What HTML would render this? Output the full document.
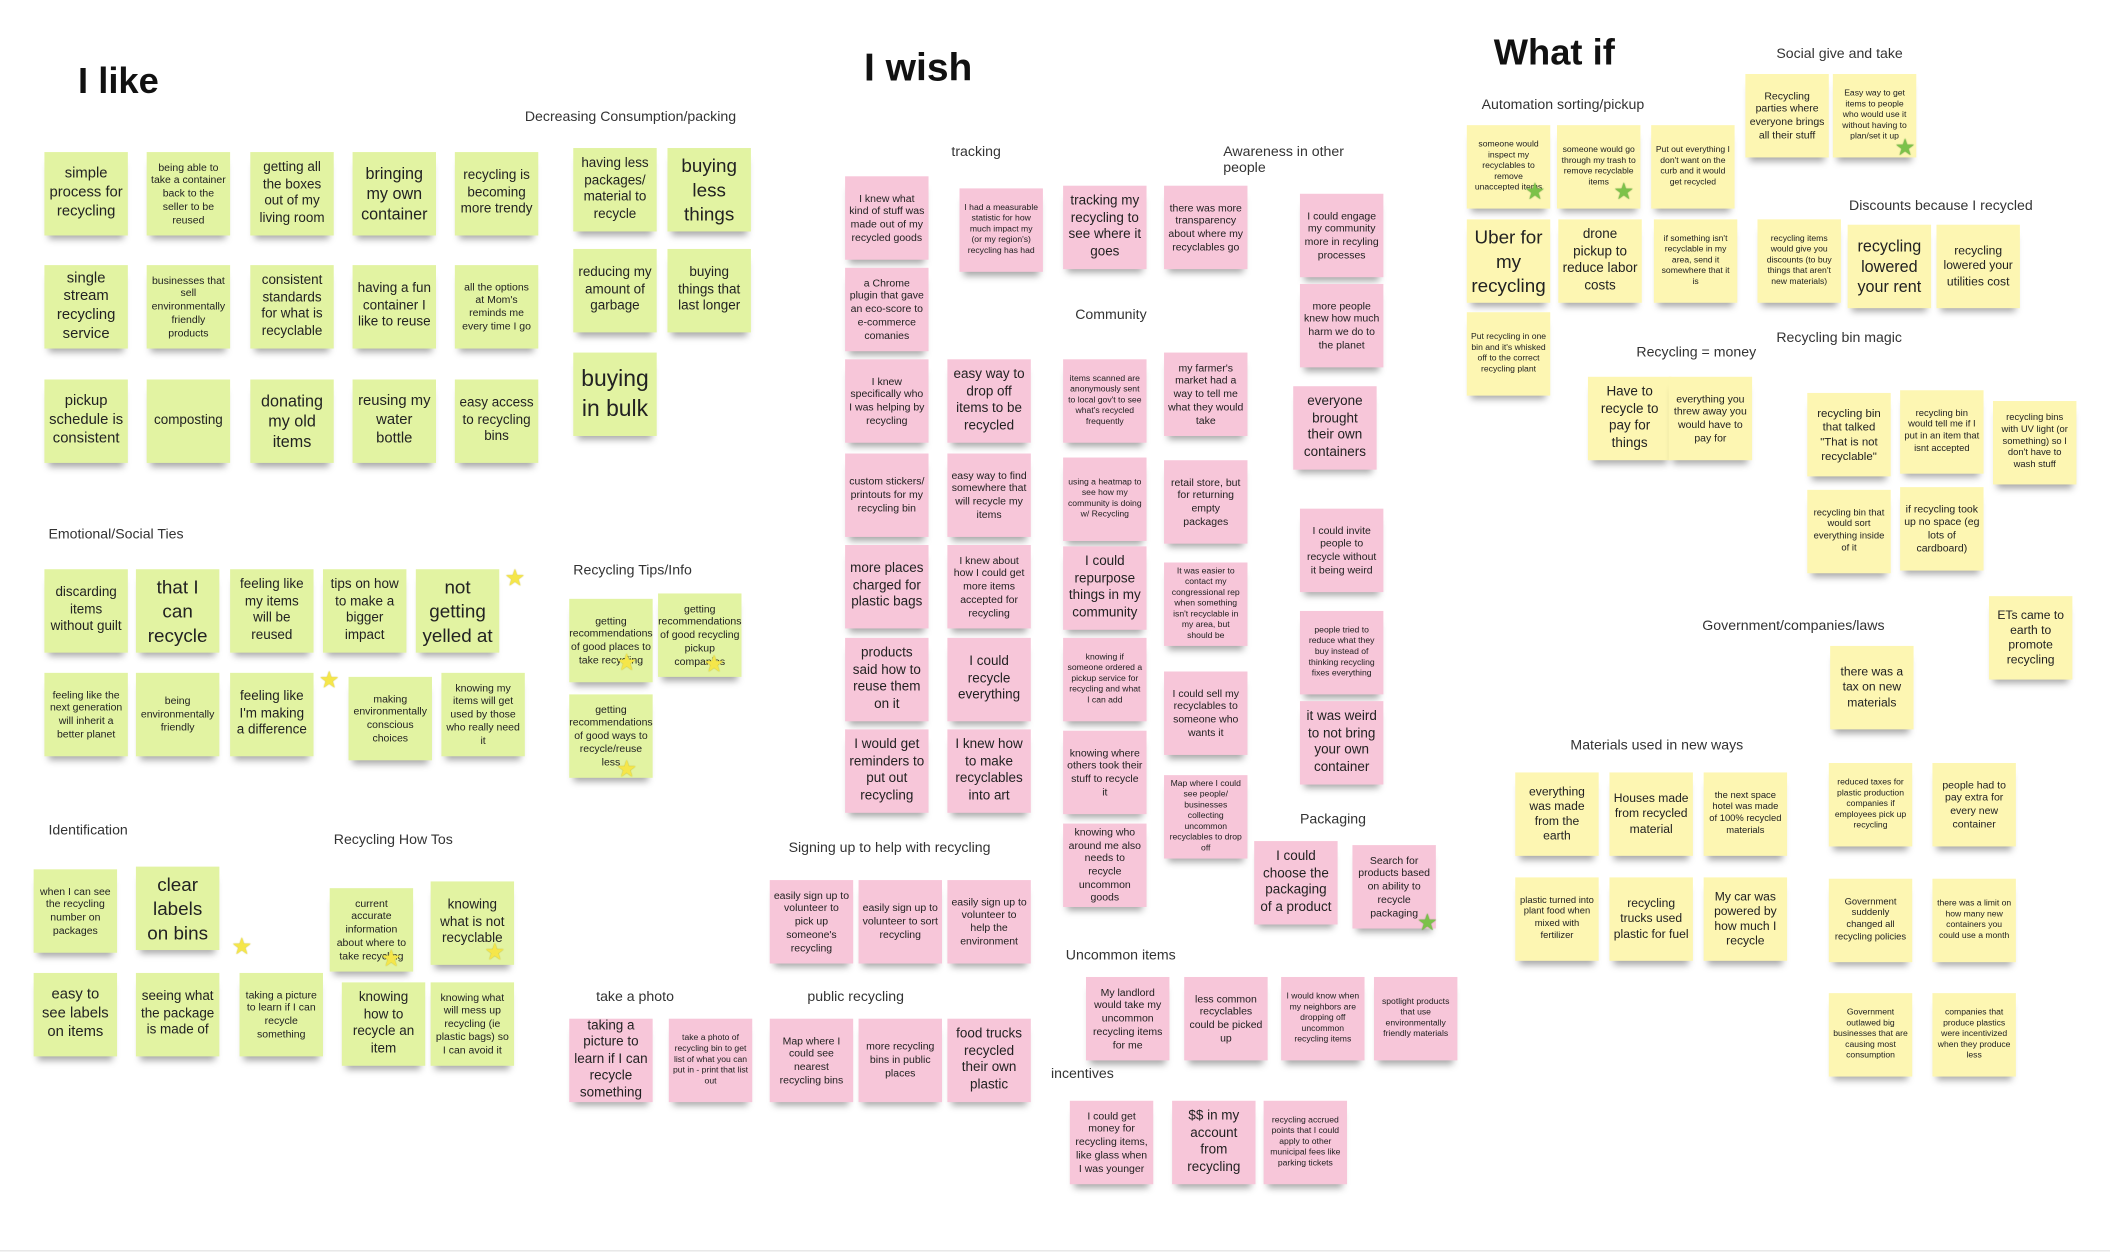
<!DOCTYPE html>
<html><head><meta charset="utf-8">
<style>
html,body{margin:0;padding:0;background:#fff;width:2110px;height:1256px;overflow:hidden}
#b{position:absolute;left:0;top:0;width:1568px;height:933px;transform:scale(1.3457);transform-origin:0 0;font-family:"Liberation Sans Narrow","Liberation Sans",sans-serif;color:#222}
.n{position:absolute;width:62px;height:62px;display:flex;align-items:center;justify-content:center;text-align:center;box-sizing:border-box;padding:2px 3px;box-shadow:0 6px 5px -3px rgba(0,0,0,.35);line-height:1.25;font-size:9.5px}
.g{background:#e2f3a2}.p{background:#f7c6d9}.y{background:#fdf6b2}
.xl{font-size:17px;line-height:1.3}.lg{font-size:14px;line-height:1.3}.md{font-size:11px}.sm{font-size:10px}.xs{font-size:7.8px}.xx{font-size:6.4px}
.l{position:absolute;font-family:"Liberation Sans",sans-serif;font-size:10.5px;color:#333;white-space:nowrap}
.t{position:absolute;font-family:"Liberation Sans",sans-serif;font-weight:bold;font-size:27px;color:#111}
.st{position:absolute;font-size:17px;line-height:1;color:#f5e64a;text-shadow:0 0 1px #b9a900}
.sg{color:#7cc24a;text-shadow:0 0 1px #4a8a2a}
.bl{position:absolute;left:0;top:929px;width:1568px;height:1px;background:#e4e4e4}
</style></head><body><div id="b">
<div class="t" style="left:58px;top:45px">I like</div>
<div class="t" style="left:642px;top:35px;font-size:29px">I wish</div>
<div class="t" style="left:1110px;top:24px">What if</div>

<div class="l" style="left:390px;top:81px">Decreasing Consumption/packing</div>
<div class="n g md" style="left:33px;top:113px">simple process for recycling</div>
<div class="n g xs" style="left:109px;top:113px">being able to take a container back to the seller to be reused</div>
<div class="n g sm" style="left:186px;top:113px">getting all the boxes out of my living room</div>
<div class="n g md" style="left:262px;top:113px;font-size:12px">bringing my own container</div>
<div class="n g sm" style="left:338px;top:113px">recycling is becoming more trendy</div>
<div class="n g md" style="left:33px;top:197px">single stream recycling service</div>
<div class="n g xs" style="left:109px;top:197px">businesses that sell environmentally friendly products</div>
<div class="n g sm" style="left:186px;top:197px">consistent standards for what is recyclable</div>
<div class="n g sm" style="left:262px;top:197px">having a fun container I like to reuse</div>
<div class="n g xs" style="left:338px;top:197px">all the options at Mom's reminds me every time I go</div>
<div class="n g md" style="left:33px;top:282px">pickup schedule is consistent</div>
<div class="n g sm" style="left:109px;top:282px">composting</div>
<div class="n g md" style="left:186px;top:282px;font-size:12px">donating my old items</div>
<div class="n g md" style="left:262px;top:282px">reusing my water bottle</div>
<div class="n g sm" style="left:338px;top:282px">easy access to recycling bins</div>
<div class="n g sm" style="left:426px;top:110px">having less packages/ material to recycle</div>
<div class="n g lg" style="left:496px;top:110px">buying less things</div>
<div class="n g sm" style="left:426px;top:185px">reducing my amount of garbage</div>
<div class="n g sm" style="left:496px;top:185px">buying things that last longer</div>
<div class="n g xl" style="left:426px;top:262px">buying in bulk</div>

<div class="l" style="left:36px;top:391px">Emotional/Social Ties</div>
<div class="n g sm" style="left:33px;top:423px">discarding items without guilt</div>
<div class="n g lg" style="left:101px;top:423px">that I can recycle</div>
<div class="n g sm" style="left:171px;top:423px">feeling like my items will be reused</div>
<div class="n g sm" style="left:240px;top:423px">tips on how to make a bigger impact</div>
<div class="n g lg" style="left:309px;top:423px">not getting yelled at</div>
<div class="st" style="left:375px;top:421px">★</div>
<div class="n g xs" style="left:33px;top:500px">feeling like the next generation will inherit a better planet</div>
<div class="n g xs" style="left:101px;top:500px">being environmentally friendly</div>
<div class="n g sm" style="left:171px;top:500px">feeling like I'm making a difference</div>
<div class="st" style="left:237px;top:497px">★</div>
<div class="n g xs" style="left:259px;top:503px">making environmentally conscious choices</div>
<div class="n g xs" style="left:328px;top:500px">knowing my items will get used by those who really need it</div>

<div class="l" style="left:36px;top:611px">Identification</div>
<div class="l" style="left:248px;top:618px">Recycling How Tos</div>
<div class="n g xs" style="left:25px;top:646px">when I can see the recycling number on packages</div>
<div class="n g lg" style="left:101px;top:644px">clear labels on bins</div>
<div class="st" style="left:172px;top:695px">★</div>
<div class="n g md" style="left:25px;top:723px">easy to see labels on items</div>
<div class="n g sm" style="left:101px;top:723px">seeing what the package is made of</div>
<div class="n g xs" style="left:178px;top:723px">taking a picture to learn if I can recycle something</div>
<div class="n g xs" style="left:245px;top:660px">current accurate information about where to take recycling</div>
<div class="st" style="left:283px;top:704px">★</div>
<div class="n g sm" style="left:320px;top:655px">knowing what is not recyclable</div>
<div class="st" style="left:360px;top:699px">★</div>
<div class="n g sm" style="left:254px;top:730px">knowing how to recycle an item</div>
<div class="n g xs" style="left:320px;top:730px">knowing what will mess up recycling (ie plastic bags) so I can avoid it</div>

<div class="l" style="left:426px;top:418px">Recycling Tips/Info</div>
<div class="n g xs" style="left:423px;top:445px">getting recommendations of good places to take recycling</div>
<div class="st" style="left:458px;top:484px">★</div>
<div class="n g xs" style="left:489px;top:441px">getting recommendations of good recycling pickup companies</div>
<div class="st" style="left:523px;top:485px">★</div>
<div class="n g xs" style="left:423px;top:516px">getting recommendations of good ways to recycle/reuse less</div>
<div class="st" style="left:458px;top:563px">★</div>

<div class="l" style="left:443px;top:735px">take a photo</div>
<div class="n p sm" style="left:423px;top:757px">taking a picture to learn if I can recycle something</div>
<div class="n p xx" style="left:497px;top:757px">take a photo of recycling bin to get list of what you can put in - print that list out</div>

<div class="l" style="left:707px;top:107px">tracking</div>
<div class="l" style="left:909px;top:107px;white-space:normal;width:110px">Awareness in other people</div>
<div class="n p xs" style="left:628px;top:131px">I knew what kind of stuff was made out of my recycled goods</div>
<div class="n p xs" style="left:628px;top:199px">a Chrome plugin that gave an eco-score to e-commerce comanies</div>
<div class="n p xs" style="left:628px;top:267px">I knew specifically who I was helping by recycling</div>
<div class="n p xs" style="left:628px;top:337px">custom stickers/ printouts for my recycling bin</div>
<div class="n p sm" style="left:628px;top:405px">more places charged for plastic bags</div>
<div class="n p sm" style="left:628px;top:474px">products said how to reuse them on it</div>
<div class="n p sm" style="left:628px;top:542px">I would get reminders to put out recycling</div>
<div class="n p xx" style="left:713px;top:140px">I had a measurable statistic for how much impact my (or my region's) recycling has had</div>
<div class="n p sm" style="left:704px;top:267px">easy way to drop off items to be recycled</div>
<div class="n p xs" style="left:704px;top:337px">easy way to find somewhere that will recycle my items</div>
<div class="n p xs" style="left:704px;top:405px">I knew about how I could get more items accepted for recycling</div>
<div class="n p sm" style="left:704px;top:474px">I could recycle everything</div>
<div class="n p sm" style="left:704px;top:542px">I knew how to make recyclables into art</div>
<div class="n p sm" style="left:790px;top:138px">tracking my recycling to see where it goes</div>
<div class="l" style="left:799px;top:228px">Community</div>
<div class="n p xx" style="left:790px;top:267px">items scanned are anonymously sent to local gov't to see what's recycled frequently</div>
<div class="n p xx" style="left:790px;top:340px">using a heatmap to see how my community is doing w/ Recycling</div>
<div class="n p sm" style="left:790px;top:406px">I could repurpose things in my community</div>
<div class="n p xx" style="left:790px;top:474px">knowing if someone ordered a pickup service for recycling and what I can add</div>
<div class="n p xs" style="left:790px;top:543px">knowing where others took their stuff to recycle it</div>
<div class="n p xs" style="left:790px;top:612px">knowing who around me also needs to recycle uncommon goods</div>
<div class="n p xs" style="left:865px;top:138px">there was more transparency about where my recyclables go</div>
<div class="n p xs" style="left:865px;top:262px">my farmer's market had a way to tell me what they would take</div>
<div class="n p xs" style="left:865px;top:342px">retail store, but for returning empty packages</div>
<div class="n p xx" style="left:865px;top:418px">It was easier to contact my congressional rep when something isn't recyclable in my area, but should be</div>
<div class="n p xs" style="left:865px;top:499px">I could sell my recyclables to someone who wants it</div>
<div class="n p xx" style="left:865px;top:576px">Map where I could see people/ businesses collecting uncommon recyclables to drop off</div>
<div class="n p xs" style="left:966px;top:144px">I could engage my community more in recyling processes</div>
<div class="n p xs" style="left:966px;top:211px">more people knew how much harm we do to the planet</div>
<div class="n p sm" style="left:961px;top:287px">everyone brought their own containers</div>
<div class="n p xs" style="left:966px;top:378px">I could invite people to recycle without it being weird</div>
<div class="n p xx" style="left:966px;top:454px">people tried to reduce what they buy instead of thinking recycling fixes everything</div>
<div class="n p sm" style="left:966px;top:521px">it was weird to not bring your own container</div>
<div class="l" style="left:966px;top:603px">Packaging</div>
<div class="n p sm" style="left:932px;top:625px">I could choose the packaging of a product</div>
<div class="n p xs" style="left:1005px;top:628px">Search for products based on ability to recycle packaging</div>
<div class="st sg" style="left:1053px;top:677px">★</div>

<div class="l" style="left:586px;top:624px">Signing up to help with recycling</div>
<div class="n p xs" style="left:572px;top:654px">easily sign up to volunteer to pick up someone's recycling</div>
<div class="n p xs" style="left:638px;top:654px">easily sign up to volunteer to sort recycling</div>
<div class="n p xs" style="left:704px;top:654px">easily sign up to volunteer to help the environment</div>
<div class="l" style="left:600px;top:735px">public recycling</div>
<div class="n p xs" style="left:572px;top:757px">Map where I could see nearest recycling bins</div>
<div class="n p xs" style="left:638px;top:757px">more recycling bins in public places</div>
<div class="n p sm" style="left:704px;top:757px">food trucks recycled their own plastic</div>
<div class="l" style="left:792px;top:704px">Uncommon items</div>
<div class="n p xs" style="left:807px;top:726px">My landlord would take my uncommon recycling items for me</div>
<div class="n p xs" style="left:880px;top:726px">less common recyclables could be picked up</div>
<div class="n p xx" style="left:952px;top:726px">I would know when my neighbors are dropping off uncommon recycling items</div>
<div class="n p xx" style="left:1021px;top:726px">spotlight products that use environmentally friendly materials</div>
<div class="l" style="left:781px;top:792px">incentives</div>
<div class="n p xs" style="left:795px;top:818px">I could get money for recycling items, like glass when I was younger</div>
<div class="n p sm" style="left:871px;top:818px">$$ in my account from recycling</div>
<div class="n p xx" style="left:939px;top:818px">recycling accrued points that I could apply to other municipal fees like parking tickets</div>

<div class="l" style="left:1320px;top:34px">Social give and take</div>
<div class="n y xs" style="left:1297px;top:55px">Recycling parties where everyone brings all their stuff</div>
<div class="n y xx" style="left:1362px;top:55px">Easy way to get items to people who would use it without having to plan/set it up</div>
<div class="st sg" style="left:1408px;top:101px">★</div>
<div class="l" style="left:1101px;top:72px">Automation sorting/pickup</div>
<div class="n y xx" style="left:1090px;top:93px">someone would inspect my recyclables to remove unaccepted items</div>
<div class="st sg" style="left:1133px;top:134px">★</div>
<div class="n y xx" style="left:1157px;top:93px">someone would go through my trash to remove recyclable items</div>
<div class="st sg" style="left:1199px;top:134px">★</div>
<div class="n y xx" style="left:1227px;top:93px">Put out everything I don't want on the curb and it would get recycled</div>
<div class="n y lg" style="left:1090px;top:163px">Uber for my recycling</div>
<div class="n y sm" style="left:1158px;top:163px">drone pickup to reduce labor costs</div>
<div class="n y xx" style="left:1229px;top:163px">if something isn't recyclable in my area, send it somewhere that it is</div>
<div class="n y xx" style="left:1090px;top:232px">Put recycling in one bin and it's whisked off to the correct recycling plant</div>
<div class="l" style="left:1374px;top:147px">Discounts because I recycled</div>
<div class="n y xx" style="left:1306px;top:163px">recycling items would give you discounts (to buy things that aren't new materials)</div>
<div class="n y md" style="left:1373px;top:167px;font-size:12px">recycling lowered your rent</div>
<div class="n y xs" style="left:1439px;top:167px;font-size:9px">recycling lowered your utilities cost</div>
<div class="l" style="left:1216px;top:256px">Recycling = money</div>
<div class="n y sm" style="left:1180px;top:280px">Have to recycle to pay for things</div>
<div class="n y xs" style="left:1240px;top:280px">everything you threw away you would have to pay for</div>
<div class="l" style="left:1320px;top:245px">Recycling bin magic</div>
<div class="n y xs" style="left:1343px;top:292px;font-size:8.5px">recycling bin that talked "That is not recyclable"</div>
<div class="n y xx" style="left:1412px;top:290px;font-size:7px">recycling bin would tell me if I put in an item that isnt accepted</div>
<div class="n y xx" style="left:1481px;top:298px;font-size:7px">recycling bins with UV light (or something) so I don't have to wash stuff</div>
<div class="n y xx" style="left:1343px;top:364px;font-size:7px">recycling bin that would sort everything inside of it</div>
<div class="n y xs" style="left:1412px;top:362px">if recycling took up no space (eg lots of cardboard)</div>
<div class="n y xs" style="left:1478px;top:443px;font-size:9px">ETs came to earth to promote recycling</div>
<div class="l" style="left:1265px;top:459px">Government/companies/laws</div>
<div class="n y xs" style="left:1360px;top:480px;font-size:9px">there was a tax on new materials</div>
<div class="l" style="left:1167px;top:548px">Materials used in new ways</div>
<div class="n y xs" style="left:1126px;top:574px;font-size:9px">everything was made from the earth</div>
<div class="n y xs" style="left:1196px;top:574px;font-size:9px">Houses made from recycled material</div>
<div class="n y xx" style="left:1266px;top:574px;font-size:7px">the next space hotel was made of 100% recycled materials</div>
<div class="n y xx" style="left:1126px;top:652px;font-size:7px">plastic turned into plant food when mixed with fertilizer</div>
<div class="n y xs" style="left:1196px;top:652px;font-size:9px">recycling trucks used plastic for fuel</div>
<div class="n y xs" style="left:1266px;top:652px;font-size:9px">My car was powered by how much I recycle</div>
<div class="n y xx" style="left:1359px;top:567px">reduced taxes for plastic production companies if employees pick up recycling</div>
<div class="n y xs" style="left:1436px;top:567px">people had to pay extra for every new container</div>
<div class="n y xx" style="left:1359px;top:653px;font-size:7px">Government suddenly changed all recycling policies</div>
<div class="n y xx" style="left:1436px;top:653px">there was a limit on how many new containers you could use a month</div>
<div class="n y xx" style="left:1359px;top:738px">Government outlawed big businesses that are causing most consumption</div>
<div class="n y xx" style="left:1436px;top:738px">companies that produce plastics were incentivized when they produce less</div>
<div class="bl"></div>
</div></body></html>
